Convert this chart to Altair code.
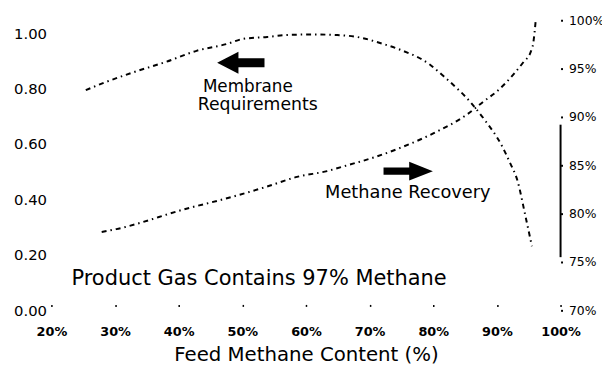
import altair as alt
import pandas as pd

# ---- data ----
feed_membrane = [25.4, 27.6, 32.8, 38.1, 42.8, 47.6, 50.1, 53.9, 57.0, 61.0, 64.9, 68.0,
                 72.1, 74.8, 79.5, 81.6, 86.1, 88.2, 90.6, 92.1, 93.2, 94.5, 95.5]
membrane_req = [0.794, 0.815, 0.858, 0.897, 0.936, 0.961, 0.979, 0.986, 0.993, 0.995, 0.993, 0.986,
                0.961, 0.940, 0.886, 0.845, 0.744, 0.683, 0.601, 0.530, 0.470, 0.338, 0.231]

feed_recovery = [27.9, 30.2, 41.7, 46.5, 53.9, 58.6, 63.3, 66.5, 70.6, 74.8, 80.0, 85.4,
                 87.9, 90.1, 92.6, 94.2, 95.3, 95.7, 96.1]
methane_recovery = [78.1, 78.4, 80.6, 81.4, 82.8, 83.8, 84.4, 85.0, 85.8, 86.8, 88.3, 90.3,
                    91.6, 92.7, 94.4, 95.7, 96.7, 97.6, 100.0]

x_ticks = [20, 30, 40, 50, 60, 70, 80, 90, 100]
left_ticks = [0.0, 0.2, 0.4, 0.6, 0.8, 1.0]
right_ticks = [70, 75, 80, 85, 90, 95, 100]

label_membrane = ["Membrane"]
label_requirements = ["Requirements"]
label_recovery = ["Methane Recovery"]
label_product = ["Product Gas Contains 97% Methane"]
x_title = "Feed Methane Content (%)"

FONT = "DejaVu Sans"

df_m = pd.DataFrame({"feed": feed_membrane, "req": membrane_req})
df_r = pd.DataFrame({"feed": feed_recovery, "rec": methane_recovery})

x_scale = alt.Scale(domain=[20, 100], nice=False, zero=False)
yl_scale = alt.Scale(domain=[0, 1.0463], nice=False, zero=False)
yr_scale = alt.Scale(domain=[70, 100], nice=False, zero=False)

x_axis = alt.Axis(values=x_ticks, labelExpr="datum.value + '%'", title=x_title,
                  domain=False, grid=False, tickSize=2, tickColor="black", tickWidth=1.5,
                  offset=-6, labelPadding=19, labelFlush=False, labelFont=FONT,
                  labelFontSize=13, labelFontWeight="bold", labelColor="black",
                  titleFont=FONT, titleFontSize=20, titleFontWeight="normal",
                  titleColor="black", titlePadding=7)
yl_axis = alt.Axis(values=left_ticks, format=".2f", title=None, domain=False, ticks=False,
                   grid=False, labelPadding=5, labelFlush=False, labelFont=FONT,
                   labelFontSize=15, labelColor="black")
yr_axis = alt.Axis(orient="right", values=right_ticks, labelExpr="datum.value + '%'",
                   title=None, domain=False, grid=False, tickSize=2, tickColor="black",
                   tickWidth=2, labelPadding=6, labelFlush=False, labelFont=FONT,
                   labelFontSize=12.5, labelColor="black")

dash = [5, 4, 1.5, 4]

membrane_line = alt.Chart(df_m).mark_line(
    color="black", strokeWidth=2, strokeDash=dash, interpolate="monotone"
).encode(
    x=alt.X("feed:Q", scale=x_scale, axis=x_axis),
    y=alt.Y("req:Q", scale=yl_scale, axis=yl_axis),
)

right_arrow_path = "M-1,-0.15L0.04,-0.15L0.04,-0.38L1,0L0.04,0.38L0.04,0.15L-1,0.15Z"
left_arrow_path = "M1,-0.19L-0.1,-0.19L-0.1,-0.46L-1,0L-0.1,0.46L-0.1,0.19L1,0.19Z"


def ann_text(labels, xv, yv, size):
    return alt.Chart(pd.DataFrame({"t": labels})).mark_text(
        align="left", baseline="middle", font=FONT, fontSize=size, color="black"
    ).encode(
        x=alt.XDatum(xv, scale=x_scale, axis=x_axis),
        y=alt.YDatum(yv, scale=yl_scale, axis=yl_axis),
        text="t:N",
    )


def ann_arrow(path, xv, yv, size):
    return alt.Chart(pd.DataFrame({"a": [0]})).mark_point(
        shape=path, size=size, filled=True, color="black", opacity=1, strokeWidth=0
    ).encode(
        x=alt.XDatum(xv, scale=x_scale, axis=x_axis),
        y=alt.YDatum(yv, scale=yl_scale, axis=yl_axis),
    )


left_group = alt.layer(
    membrane_line,
    ann_arrow(left_arrow_path, 49.76, 0.893, 2304),
    ann_arrow(right_arrow_path, 76.06, 0.502, 2500),
    ann_text(label_membrane, 43.8, 0.806, 17),
    ann_text(label_requirements, 43.0, 0.740, 17.5),
    ann_text(label_recovery, 63.0, 0.422, 18),
    ann_text(label_product, 23.15, 0.114, 21.2),
)

recovery_line = alt.Chart(df_r).mark_line(
    color="black", strokeWidth=2, strokeDash=dash, interpolate="monotone"
).encode(
    x=alt.X("feed:Q", scale=x_scale, axis=x_axis),
    y=alt.Y("rec:Q", scale=yr_scale, axis=yr_axis),
)

right_rule = alt.Chart(pd.DataFrame({"a": [0]})).mark_rule(
    color="black", strokeWidth=2
).encode(
    x=alt.XDatum(100, scale=x_scale, axis=x_axis),
    y=alt.YDatum(89.2, scale=yr_scale, axis=yr_axis),
    y2=alt.Y2Datum(75.5),
)

right_group = alt.layer(recovery_line, right_rule)

chart = alt.layer(left_group, right_group).resolve_scale(y="independent").properties(
    width=516, height=294,
    autosize=alt.AutoSizeParams(type="none"),
    padding={"left": 44, "top": 10, "right": 42, "bottom": 54},
    background="white",
).configure_view(stroke=None)

chart.save("out.html", embed_options={"renderer": "svg", "actions": False})
